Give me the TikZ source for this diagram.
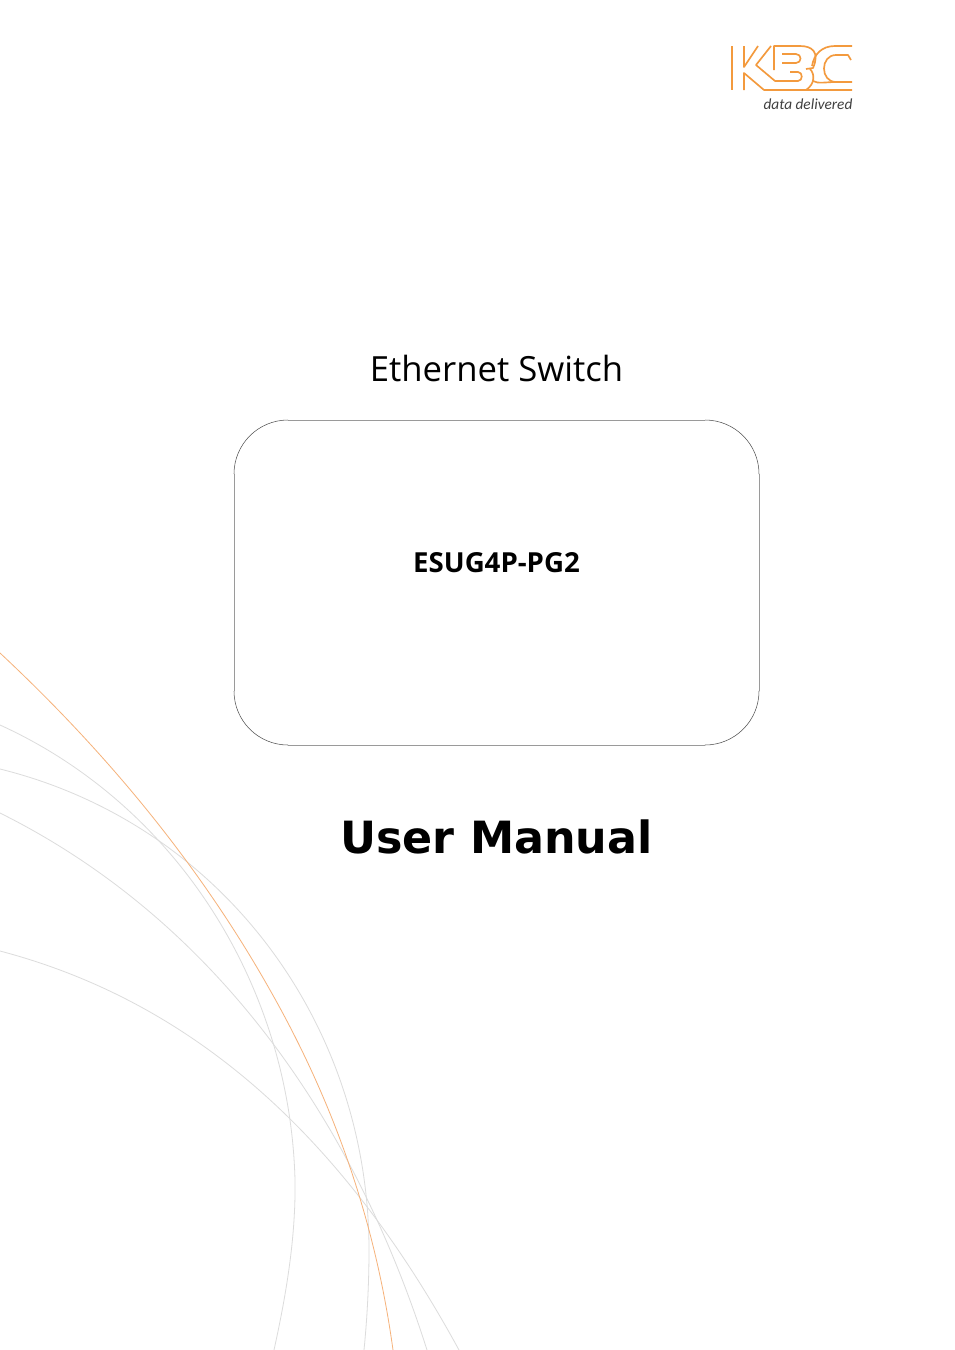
\documentclass[tikz,border=0pt]{standalone}
\usepackage{fontspec}
\setmainfont{DejaVu Sans}
\newfontfamily\tahoma{Open Sans}
\newfontfamily\logofont{Carlito}
\definecolor{kbc}{HTML}{F39A3E}
\definecolor{swirl}{HTML}{DCDCDC}
\definecolor{swirlo}{HTML}{F6B27A}
\definecolor{boxedge}{HTML}{9A9A9A}
\definecolor{boxcorner}{HTML}{505050}
\definecolor{logotext}{HTML}{404040}
\tikzset{
  swirlline/.style={draw=swirl,line width=0.6pt},
  swirlorange/.style={draw=swirlo,line width=0.6pt},
  logoline/.style={draw=kbc,line width=1.25pt,line join=round},
  boxside/.style={draw=boxedge,line width=0.6pt},
  boxarc/.style={draw=boxcorner,line width=0.4pt},
}
\begin{document}
\begin{tikzpicture}[x=0.75pt,y=-0.75pt]
\useasboundingbox (0,0) rectangle (954,1350);
\fill[white] (0,0) rectangle (954,1350);
\clip (0,0) rectangle (954,1350);
% swirls
\draw[swirlline] (0,725) .. controls (176,805) and (290,985) .. (295,1180) .. controls (296,1240) and (285,1300) .. (274,1350);
\draw[swirlline] (0,769) .. controls (222,824) and (369,1024) .. (369,1250) .. controls (369,1285) and (367,1320) .. (364,1350);
\draw[swirlline] (0,813) .. controls (215,920) and (354,1120) .. (427,1350);
\draw[swirlline] (0,951) .. controls (205,1005) and (350,1150) .. (459,1350);
\draw[swirlorange] (0,653) .. controls (106,752) and (199,864) .. (270,990) .. controls (333,1101) and (375,1219) .. (393,1350);
% box
\draw[boxside] (288,420) -- (705,420);
\draw[boxside] (759,474) -- (759,691);
\draw[boxside] (705,745) -- (288,745);
\draw[boxside] (234,691) -- (234,474);
\draw[boxarc] (234,474) .. controls (234,444.2) and (258.2,420) .. (288,420);
\draw[boxarc] (705,420) .. controls (734.8,420) and (759,444.2) .. (759,474);
\draw[boxarc] (759,691) .. controls (759,720.8) and (734.8,745) .. (705,745);
\draw[boxarc] (288,745) .. controls (258.2,745) and (234,720.8) .. (234,691);
% text
\node[inner sep=0pt,anchor=base] (title) at (496.5,381) {\tahoma\fontsize{26}{30}\selectfont Ethernet Switch};
\node[inner sep=0pt,anchor=base] (model) at (496.5,572) {\tahoma\bfseries\fontsize{20.7}{24}\selectfont ESUG4P-PG2};
\node[inner sep=0pt,anchor=base] (manual) at (496.5,853) {\bfseries\fontsize{33.3}{42}\selectfont User Manual};
% logo
\draw[logoline] (732,46) -- (732,90);
\draw[logoline] (744,46) -- (744,67) -- (758,46);
\draw[logoline] (771,46) -- (756,65) -- (775,81) -- (798,81) .. controls (803,81) and (803,72) .. (798,72) -- (790,72);
\draw[logoline] (744,90) -- (744,73) -- (764,90) -- (852,90);
\draw[logoline] (774,70) -- (774,46) -- (800,46) .. controls (812,46) and (820,52) .. (813,68) -- (806,69);
\draw[logoline] (782,54) -- (796,54) .. controls (802,54) and (802,63) .. (796,63) -- (782,63);
\draw[logoline] (810,69) .. controls (815,74) and (815,84) .. (806,90);
\draw[logoline] (812,66) .. controls (814,54) and (822,46) .. (835,46) -- (852,46);
\draw[logoline] (852,82) -- (836,82) .. controls (820,82) and (820,55) .. (836,55) -- (848,55) -- (851,60);
\draw[logoline] (813,81) .. controls (818,84) and (826,82) .. (836,82);
\node[inner sep=0pt,anchor=base] (tag) at (808,109) {\logofont\itshape\color{logotext}\fontsize{11.5}{12}\selectfont data delivered};
\end{tikzpicture}
\end{document}
